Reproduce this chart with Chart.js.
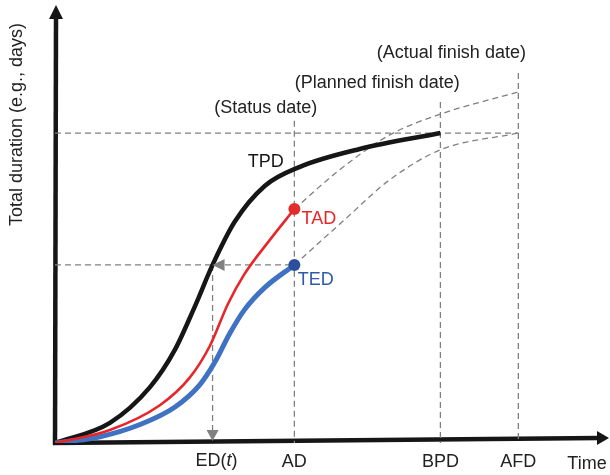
<!DOCTYPE html>
<html>
<head>
<meta charset="utf-8">
<script src="https://cdn.jsdelivr.net/npm/chart.js@4/dist/chart.umd.min.js"></script>
<style>
  html, body { margin: 0; padding: 0; background: #fff; }
</style>
</head>
<body>
<canvas id="chart" width="610" height="475"></canvas>
<script>
// time axis 0..100, duration axis 0..100 (arbitrary units)
const tpdX = [0, 10.0, 17.3, 21.8, 25.5, 28.7, 32.7, 38.2, 44.5, 55.5, 70.2];
const tpdY = [0, 4.8, 13.3, 22.1, 32.6, 42.4, 52.6, 61.2, 65.7, 70.0, 73.8];

const tadX = [0, 10.0, 19.1, 24.5, 28.2, 31.5, 34.5, 39.1, 43.6];
const tadY = [0, 3.1, 9.0, 15.5, 23.1, 33.1, 40.2, 48.3, 55.7];

const tedX = [0, 8.2, 15.5, 21.8, 26.4, 29.1, 31.8, 34.5, 38.2, 43.6];
const tedY = [0, 1.5, 4.4, 8.5, 13.9, 19.2, 26.0, 31.7, 37.0, 42.4];

// forecast curves after the status date
const tadFcX = [43.6, 51.8, 60.9, 70.2, 84.4];
const tadFcY = [55.7, 65.0, 73.3, 78.3, 83.6];
const tedFcX = [43.6, 52.7, 60.9, 70.2, 84.4];
const tedFcY = [42.4, 53.1, 62.6, 69.8, 73.8];

// key dates on the time axis
const tickVals = [28.7, 43.6, 70.2, 84.4];
const tickLabels = ['ED(t)', 'AD', 'BPD', 'AFD'];
const totalPlanned = 73.8;
const edValue = 42.4;

const pts = (xs, ys) => xs.map((x, i) => ({ x: x, y: ys[i] }));

const gray = '#808080';
const dashed = (data, smooth) => ({
  data: data,
  showLine: true,
  borderColor: gray,
  borderWidth: 1.3,
  borderDash: [6, 4],
  pointRadius: 0,
  cubicInterpolationMode: smooth ? 'monotone' : 'default',
  tension: 0
});
const lastDot = (n, r) => (ctx) => (ctx.dataIndex === n - 1 ? r : 0);

const datasets = [
  {
    data: pts(tadX, tadY), showLine: true, borderColor: '#e8262a', borderWidth: 2.6,
    pointRadius: lastDot(tadX.length, 6), pointBackgroundColor: '#e32d2d', pointBorderWidth: 0,
    cubicInterpolationMode: 'monotone'
  },
  {
    data: pts(tedX, tedY), showLine: true, borderColor: '#3f72c2', borderWidth: 5,
    pointRadius: lastDot(tedX.length, 6), pointBackgroundColor: '#2c4e9c', pointBorderWidth: 0,
    cubicInterpolationMode: 'monotone'
  },
  {
    data: pts(tpdX, tpdY), showLine: true, borderColor: '#161616', borderWidth: 4.5,
    pointRadius: 0, cubicInterpolationMode: 'monotone'
  },
  dashed(pts(tadFcX, tadFcY), true),
  dashed(pts(tedFcX, tedFcY), true),
  dashed([{ x: 0, y: totalPlanned }, { x: tickVals[3], y: totalPlanned }]),
  dashed([{ x: 0, y: edValue }, { x: tickVals[1], y: edValue }]),
  dashed([{ x: tickVals[0], y: edValue }, { x: tickVals[0], y: 2.5 }]),
  dashed([{ x: tickVals[1], y: 76.7 }, { x: tickVals[1], y: 0 }]),
  dashed([{ x: tickVals[2], y: 81.2 }, { x: tickVals[2], y: 0 }]),
  dashed([{ x: tickVals[3], y: 88.1 }, { x: tickVals[3], y: 0 }])
];

const FONT = '"Liberation Sans", Arial, sans-serif';
const FS = 18;

const diagram = {
  id: 'diagram',
  beforeDatasetsDraw(chart) {
    const { ctx, scales: { x, y } } = chart;
    const ox = x.getPixelForValue(0), oy = y.getPixelForValue(0);
    ctx.save();
    ctx.strokeStyle = '#161616';
    ctx.fillStyle = '#161616';
    ctx.lineWidth = 4.5;
    // y axis
    ctx.beginPath();
    ctx.moveTo(ox, oy + 2);
    ctx.lineTo(ox + 1, 19);
    ctx.stroke();
    ctx.beginPath();
    ctx.moveTo(ox + 1, 5);
    ctx.lineTo(ox + 8, 19);
    ctx.lineTo(ox - 6, 19);
    ctx.closePath();
    ctx.fill();
    // x axis
    ctx.beginPath();
    ctx.moveTo(ox - 2, oy);
    ctx.lineTo(599, oy - 5);
    ctx.stroke();
    ctx.beginPath();
    ctx.moveTo(609, oy - 5);
    ctx.lineTo(597, oy - 12);
    ctx.lineTo(597, oy + 2);
    ctx.closePath();
    ctx.fill();
    ctx.restore();
  },
  afterDraw(chart) {
    const { ctx, scales: { x, y } } = chart;
    const ex = x.getPixelForValue(tickVals[0]);
    const ey = y.getPixelForValue(edValue);
    ctx.save();
    // arrow heads of the ED(t) construction
    ctx.fillStyle = gray;
    ctx.beginPath();
    ctx.moveTo(ex, ey);
    ctx.lineTo(ex + 12, ey - 6);
    ctx.lineTo(ex + 12, ey + 6);
    ctx.closePath();
    ctx.fill();
    const by = y.getPixelForValue(0) - 2;
    ctx.beginPath();
    ctx.moveTo(ex, by);
    ctx.lineTo(ex - 6, by - 11);
    ctx.lineTo(ex + 6, by - 11);
    ctx.closePath();
    ctx.fill();

    const text = (s, vx, vy, color, align) => {
      ctx.fillStyle = color;
      ctx.textAlign = align || 'center';
      ctx.textBaseline = 'middle';
      ctx.font = FS + 'px ' + FONT;
      ctx.fillText(s, x.getPixelForValue(vx), y.getPixelForValue(vy));
    };
    text('(Status date)', 38.4, 79.8, '#222');
    text('(Planned finish date)', 58.7, 85.7, '#222');
    text('(Actual finish date)', 72.2, 92.9, '#222');
    text('TPD', 38.4, 66.9, '#161616');
    text('TAD', 44.9, 53.3, '#e8262a', 'left');
    text('TED', 44.2, 38.8, '#2e5aa8', 'left');
    text('Time', 96.9, -5.0, '#222');

    // ED(t) tick label with italic t
    const parts = [['ED(', ''], ['t', 'italic '], [')', '']];
    let w = 0;
    parts.forEach(p => { ctx.font = p[1] + FS + 'px ' + FONT; w += ctx.measureText(p[0]).width; });
    let cx = ex + 4 - w / 2;
    const ty = 461;
    ctx.fillStyle = '#222';
    ctx.textAlign = 'left';
    ctx.textBaseline = 'middle';
    parts.forEach(p => {
      ctx.font = p[1] + FS + 'px ' + FONT;
      ctx.fillText(p[0], cx, ty);
      cx += ctx.measureText(p[0]).width;
    });
    ctx.restore();
  }
};

new Chart(document.getElementById('chart'), {
  type: 'scatter',
  data: { datasets: datasets },
  options: {
    responsive: false,
    animation: false,
    layout: { padding: { top: 23, right: 5, left: 0, bottom: 0 } },
    plugins: { legend: { display: false }, tooltip: { enabled: false } },
    scales: {
      x: {
        type: 'linear', min: 0, max: 100,
        grid: { display: false, drawTicks: false },
        border: { display: false },
        afterFit: (s) => { s.height = 32; },
        afterBuildTicks: (s) => { s.ticks = tickVals.map(v => ({ value: v })); },
        ticks: {
          autoSkip: false, maxRotation: 0, padding: 8,
          color: '#222', font: { family: FONT, size: FS },
          callback: (v, i) => (i === 0 ? '' : tickLabels[i])
        }
      },
      y: {
        type: 'linear', min: 0, max: 100,
        grid: { display: false, drawTicks: false },
        border: { display: false },
        ticks: { display: false },
        afterFit: (s) => { s.width = 55; },
        title: {
          display: true, text: 'Total duration (e.g., days)', align: 'end',
          color: '#222', font: { family: FONT, size: FS }, padding: { top: 6 }
        }
      }
    }
  },
  plugins: [diagram]
});
</script>
</body>
</html>
